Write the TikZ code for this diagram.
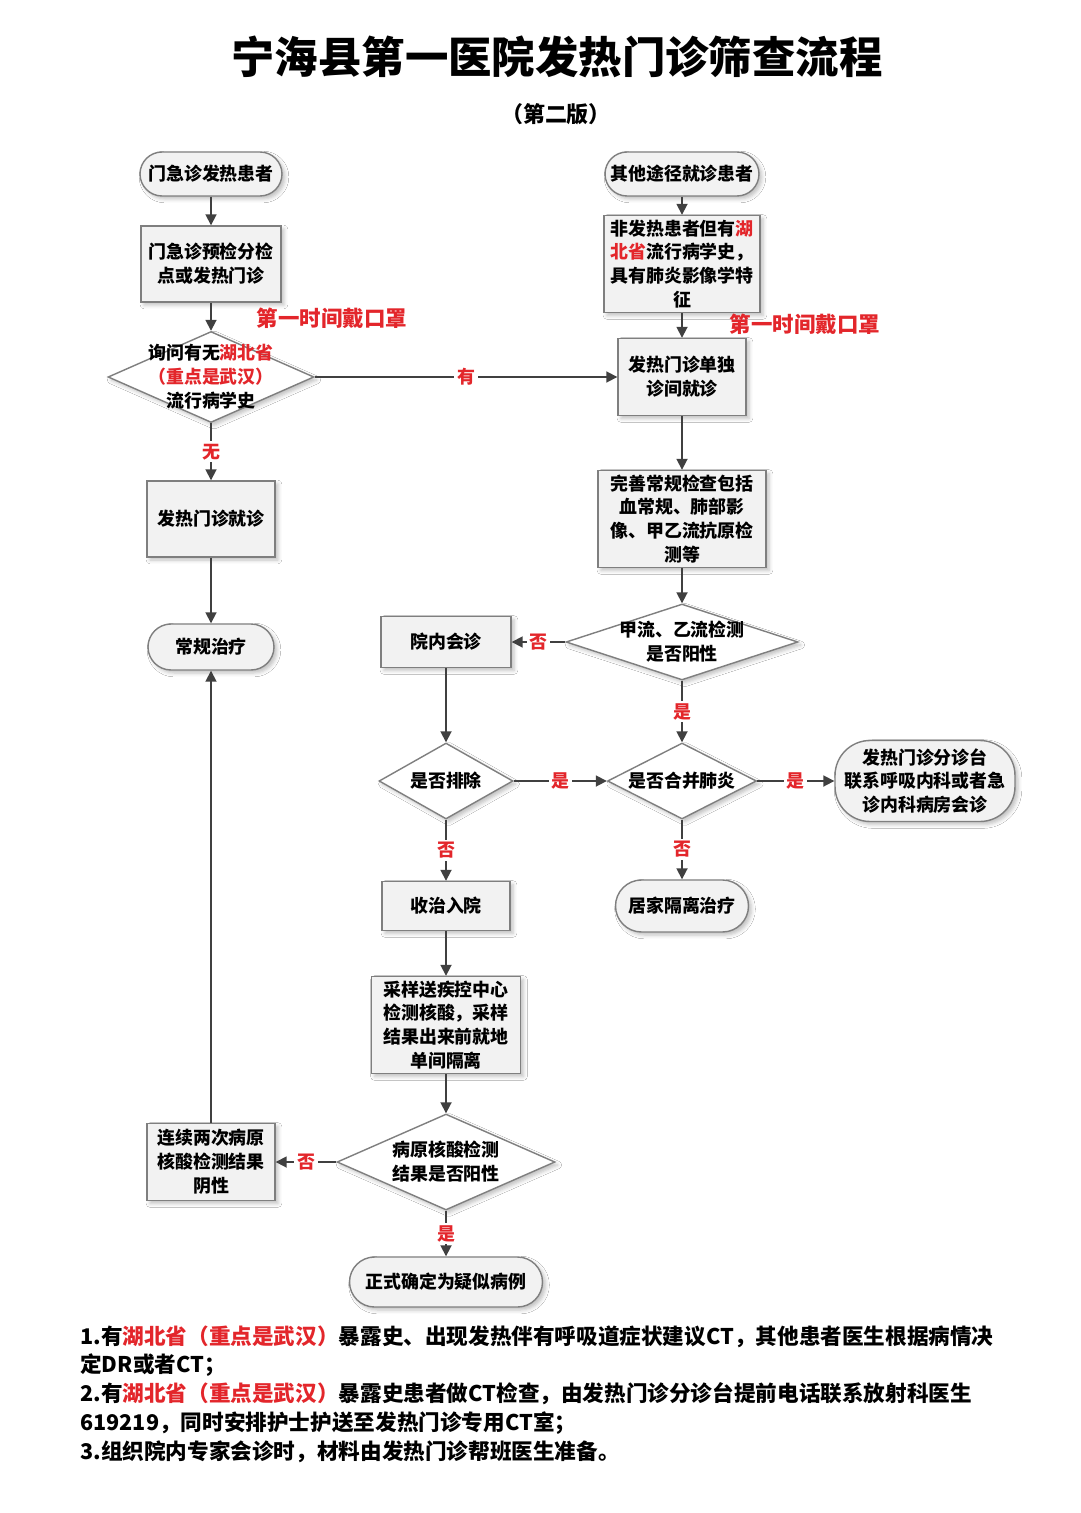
\documentclass[tikz,border=0pt]{standalone}
\usepackage{fontspec}
\setmainfont{Noto Sans CJK SC}
\usetikzlibrary{arrows.meta,shapes.geometric,shadows.blur}
\definecolor{fcRed}{HTML}{E3262B}
\definecolor{fcLine}{HTML}{404040}
\definecolor{fcEdge}{HTML}{7F7F7F}
\definecolor{fcFill}{HTML}{F2F2F2}
\newcommand{\boxfont}{\bfseries\fontsize{10.2}{13.6}\selectfont}
\newcommand{\hb}[1]{\textcolor{fcRed}{#1}}
\tikzset{
  >={Triangle[length=2.2mm,width=2.2mm]},
  proc/.style={draw=fcEdge, fill=fcFill, line width=0.8pt, align=center,
              inner sep=0pt, font=\boxfont,
              blur shadow={shadow blur steps=4, shadow xshift=0.6mm, shadow yshift=-0.6mm, shadow opacity=25}},
  term/.style={proc, rounded corners=4.4mm},
  dia/.style={diamond, draw=fcEdge, fill=white, line width=0.8pt, inner sep=0pt,
              blur shadow={shadow blur steps=4, shadow xshift=0.6mm, shadow yshift=-0.6mm, shadow opacity=25}},
  dtext/.style={align=center, font=\boxfont, inner sep=0pt},
  flow/.style={->, draw=fcLine, line width=1pt},
  yn/.style={fill=white, text=fcRed, inner sep=1.5pt, font=\boxfont},
  warn/.style={text=fcRed, font=\bfseries\fontsize{12.2}{14}\selectfont},
}

\begin{document}
\begin{tikzpicture}[x=0.02cm,y=-0.02cm]
    \fill[white] (0,0) rectangle (1080,1513);
    \useasboundingbox (0,0) rectangle (1080,1513);
    % title
    \node[font=\bfseries\fontsize{24.7}{28}\selectfont] (title) at (557,57) {宁海县第一医院发热门诊筛查流程};
    \node[font=\bfseries\fontsize{12.5}{14}\selectfont] (subtitle) at (556,114) {（第二版）};
    % left column
    \node[term,minimum width=2.84cm,minimum height=0.88cm] (n1) at (211,174) {门急诊发热患者};
    \node[proc,minimum width=2.80cm,minimum height=1.52cm] (n2) at (211,264) {门急诊预检分检\\点或发热门诊};
    \node[warn] (mask1) at (332,318) {第一时间戴口罩};
    \node[dia,minimum width=4.12cm,minimum height=1.82cm,
          label={[dtext,name=d1t]center:询问有无\hb{湖北省}\\\hb{（重点是武汉）}\\流行病学史}] (d1) at (211,377) {};
    \node[proc,minimum width=2.56cm,minimum height=1.52cm] (n3) at (211,519) {发热门诊就诊};
    \node[term,minimum width=2.52cm,minimum height=0.92cm,rounded corners=4.6mm] (n4) at (211,647) {常规治疗};
    % right column
    \node[term,minimum width=3.08cm,minimum height=0.88cm] (r1) at (682,174) {其他途径就诊患者};
    \node[proc,minimum width=3.12cm,minimum height=1.94cm] (r2) at (682,264)
          {非发热患者但有\hb{湖}\\\hb{北省}流行病学史，\\具有肺炎影像学特\\征};
    \node[warn] (mask2) at (805,324) {第一时间戴口罩};
    \node[proc,minimum width=2.56cm,minimum height=1.54cm] (r3) at (682,377) {发热门诊单独\\诊间就诊};
    \node[proc,minimum width=3.36cm,minimum height=1.94cm] (r4) at (682,519)
          {完善常规检查包括\\血常规、肺部影\\像、甲乙流抗原检\\测等};
    \node[dia,minimum width=4.64cm,minimum height=1.52cm,
          label={[dtext,name=d2t]center:甲流、乙流检测\\是否阳性}] (d2) at (682,642) {};
    % middle column
    \node[proc,minimum width=2.60cm,minimum height=1.02cm] (m1) at (446,642) {院内会诊};
    \node[dia,minimum width=2.68cm,minimum height=1.52cm,
          label={[dtext,name=d3t]center:是否排除}] (d3) at (446,781) {};
    \node[dia,minimum width=2.98cm,minimum height=1.52cm,
          label={[dtext,name=d4t]center:是否合并肺炎}] (d4) at (682,781) {};
    \node[term,minimum width=3.60cm,minimum height=1.62cm,rounded corners=7mm] (t1) at (925,781)
          {发热门诊分诊台\\联系呼吸内科或者急\\诊内科病房会诊};
    \node[proc,minimum width=2.56cm,minimum height=0.98cm] (m2) at (446,906) {收治入院};
    \node[term,minimum width=2.66cm,minimum height=1.04cm,rounded corners=5.2mm] (t2) at (682,906) {居家隔离治疗};
    \node[proc,minimum width=2.98cm,minimum height=1.94cm] (m3) at (446,1025)
          {采样送疾控中心\\检测核酸，采样\\结果出来前就地\\单间隔离};
    \node[dia,minimum width=4.36cm,minimum height=1.92cm,
          label={[dtext,name=d5t]center:病原核酸检测\\结果是否阳性}] (d5) at (446,1162) {};
    \node[proc,minimum width=2.56cm,minimum height=1.54cm] (m4) at (211,1162) {连续两次病原\\核酸检测结果\\阴性};
    \node[term,minimum width=3.86cm,minimum height=1.00cm,rounded corners=5mm] (t3) at (446,1282) {正式确定为疑似病例};
    % connectors
    \foreach \a/\b in {n1/n2, n2/d1, n3/n4, r1/r2, r2/r3, r3/r4, r4/d2, m1/d3, m2/m3, m3/d5, m4/n4}
      \draw[flow] (\a) -- (\b);
    \foreach \a/\b/\t in {d1/n3/无, d1/r3/有, d2/m1/否, d2/d4/是, d3/d4/是, d4/t1/是,
                          d3/m2/否, d4/t2/否, d5/m4/否, d5/t3/是}
      \draw[flow] (\a) -- node[yn]{\t} (\b);
    % notes
    \node[anchor=north west,align=left,inner sep=0pt,font=\bfseries\fontsize{12.3}{16.4}\selectfont] (notes) at (80,1325)
      {1.有\hb{湖北省（重点是武汉）}暴露史、出现发热伴有呼吸道症状建议CT，其他患者医生根据病情决\\
       定DR或者CT；\\
       2.有\hb{湖北省（重点是武汉）}暴露史患者做CT检查，由发热门诊分诊台提前电话联系放射科医生\\
       619219，同时安排护士护送至发热门诊专用CT室；\\
       3.组织院内专家会诊时，材料由发热门诊帮班医生准备。};
\end{tikzpicture}
\end{document}
